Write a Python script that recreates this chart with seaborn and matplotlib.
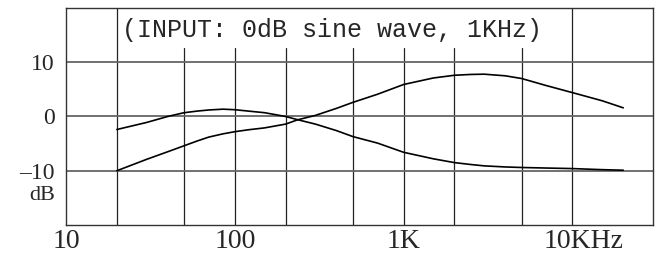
import numpy as np
import matplotlib
matplotlib.use("Agg")
import matplotlib.pyplot as plt
import matplotlib.transforms as mtransforms
import seaborn as sns
import pandas as pd

freq = [20, 30, 40, 50, 60, 70, 85, 100, 120, 150, 200, 236, 300, 400, 500,
        700, 1000, 1500, 2000, 2500, 3000, 4000, 5000, 7000, 10000, 15000, 20000]
curve_a = [-2.4, -1.1, 0.0, 0.7, 1.0, 1.2, 1.35, 1.25, 1.0, 0.7, 0.0, -0.6,
           -1.4, -2.6, -3.7, -4.9, -6.6, -7.8, -8.5, -8.85, -9.1, -9.3, -9.4,
           -9.5, -9.6, -9.8, -9.9]
curve_b = [-10.0, -7.9, -6.5, -5.4, -4.5, -3.8, -3.2, -2.8, -2.45, -2.1, -1.4,
           -0.6, 0.2, 1.5, 2.6, 4.1, 5.9, 7.1, 7.6, 7.75, 7.8, 7.5, 7.0, 5.7,
           4.4, 2.9, 1.6]

x_ticks = [10, 100, 1000, 10000]
x_labels = ["10", "100", "1K", "10KHz"]
y_ticks = [10, 0, -10]
y_labels = ["10", "0", "\u201310"]
grid_freqs = [20, 50, 100, 200, 500, 1000, 2000, 5000, 10000]
note = "(INPUT: 0dB sine wave, 1KHz)"

df = pd.DataFrame({"freq": freq * 2,
                   "level": curve_a + curve_b,
                   "curve": ["a"] * len(freq) + ["b"] * len(freq)})

sns.set_style("white")
plt.rcParams["font.family"] = ["Liberation Serif", "DejaVu Serif"]

fig = plt.figure(figsize=(6.57, 2.57), dpi=100)
ax = fig.add_axes([0.1005, 0.1245, 0.8934, 0.8444])

# grid: lines inside the note box stop below it
box_bottom = (12.6 + 20) / 40
for f in grid_freqs:
    top = 1.0 if f in (20, 10000) else box_bottom
    ax.axvline(f, ymax=top, color="#222222", lw=0.9, zorder=1)
for yv in y_ticks:
    ax.axhline(yv, color="#666666", lw=1.3, zorder=1)

sns.lineplot(data=df, x="freq", y="level", units="curve", estimator=None,
             color="black", lw=1.2, ax=ax, zorder=3, legend=False)

ax.set_xscale("log")
ax.set_xlim(10, 30000)
ax.set_ylim(-20, 20)
ax.set_xticks(x_ticks)
ax.set_xticklabels(x_labels, fontsize=20)
ax.minorticks_off()
ax.set_yticks(y_ticks)
ax.set_yticklabels(y_labels, fontsize=17)
ax.tick_params(axis="both", length=0)
ax.tick_params(axis="x", pad=3)
ax.tick_params(axis="y", pad=8)
ax.set_xlabel("")
ax.set_ylabel("")

last = ax.get_xticklabels()[-1]
last.set_horizontalalignment("left")
last.set_transform(last.get_transform() +
                   mtransforms.ScaledTranslation(-0.29, 0, fig.dpi_scale_trans))

ax.text(-0.018, -14.6, "dB", transform=mtransforms.blended_transform_factory(ax.transAxes, ax.transData),
        ha="right", va="center", fontsize=16)

ax.text(21.5, 15.9, note, family=["Liberation Mono", "DejaVu Sans Mono"],
        fontsize=18, ha="left", va="center", zorder=4)

for s in ax.spines.values():
    s.set_color("#333333")
    s.set_linewidth(1.0)

fig.savefig("out.png", dpi=100)
